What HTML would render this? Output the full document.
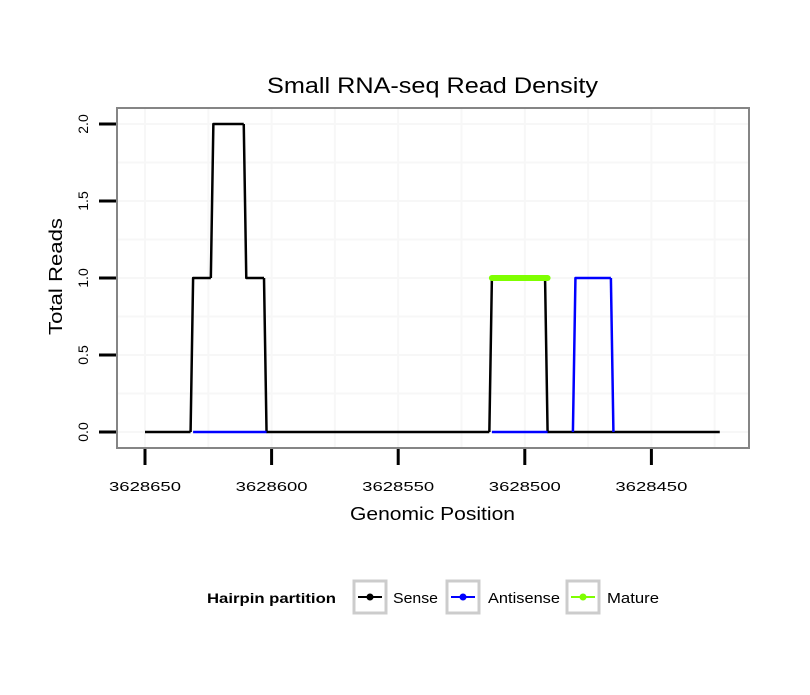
<!DOCTYPE html>
<html><head><meta charset="utf-8"><style>
body{margin:0;background:#fff;}
svg text{font-family:"Liberation Sans",sans-serif;}
</style></head><body>
<svg id="chart" width="810" height="690" xmlns="http://www.w3.org/2000/svg">
<rect width="810" height="690" fill="#fff"/>
<text x="267" y="93" font-size="22" textLength="331" lengthAdjust="spacingAndGlyphs">Small RNA-seq Read Density</text>
<g id="grid"></g>
<g id="series"></g>
<rect x="117" y="108" width="632" height="340" fill="none" stroke="#858585" stroke-width="2"/>
<g id="axes"></g>
<text x="350" y="520" font-size="18" textLength="165" lengthAdjust="spacingAndGlyphs">Genomic Position</text>
<text transform="translate(62,335) rotate(-90)" font-size="18" textLength="117" lengthAdjust="spacingAndGlyphs">Total Reads</text>
<g>
<text x="207" y="603" font-size="14" font-weight="bold" textLength="129" lengthAdjust="spacingAndGlyphs">Hairpin partition</text>
<g>
<rect x="354" y="581" width="32" height="32" fill="#fff" stroke="#cccccc" stroke-width="3"/>
<line x1="358" y1="597" x2="382" y2="597" stroke="#000" stroke-width="2"/><circle cx="370" cy="597" r="3.5" fill="#000"/>
<text x="393" y="603" font-size="15" textLength="45" lengthAdjust="spacingAndGlyphs">Sense</text></g>
<g>
<rect x="447" y="581" width="32" height="32" fill="#fff" stroke="#cccccc" stroke-width="3"/>
<line x1="451" y1="597" x2="475" y2="597" stroke="#0000ff" stroke-width="2"/><circle cx="463" cy="597" r="3.5" fill="#0000ff"/>
<text x="488" y="603" font-size="15" textLength="72" lengthAdjust="spacingAndGlyphs">Antisense</text></g>
<g>
<rect x="567" y="581" width="32" height="32" fill="#fff" stroke="#cccccc" stroke-width="3"/>
<line x1="571" y1="597" x2="595" y2="597" stroke="#7fff00" stroke-width="2"/><circle cx="583" cy="597" r="3.5" fill="#7fff00"/>
<text x="607" y="603" font-size="15" textLength="52" lengthAdjust="spacingAndGlyphs">Mature</text></g>
</g>
</svg>
<script>
const xTicks=[3628650,3628600,3628550,3628500,3628450];
const yTicks=[0,0.5,1.0,1.5,2.0];
const yTickLabels=["0.0","0.5","1.0","1.5","2.0"];
// runs: start position, end position, value
const senseStart=[3628650,3628631,3628623,3628610,3628602,3628513,3628491];
const senseEnd=[3628632,3628624,3628611,3628603,3628514,3628492,3628423];
const senseValue=[0,1,2,1,0,1,0];
const antiStart=[3628631,3628513,3628481,3628480,3628465];
const antiEnd=[3628602,3628491,3628481,3628466,3628465];
const antiValue=[0,0,0,1,0];
const matureStart=[3628513];
const matureEnd=[3628491];
const matureValue=[1];

const NS="http://www.w3.org/2000/svg";
const xs=p=>145+(3628650-p)*2.532;
const ys=v=>432-v*154;
function mk(tag,attrs,parent){const e=document.createElementNS(NS,tag);for(const k in attrs)e.setAttribute(k,attrs[k]);parent.appendChild(e);return e;}
const grid=document.getElementById('grid'),axes=document.getElementById('axes'),series=document.getElementById('series');
const gx=[];for(let i=0;i<xTicks.length;i++){gx.push(xTicks[i]);if(i<xTicks.length-1)gx.push((xTicks[i]+xTicks[i+1])/2);}
gx.push(xTicks[xTicks.length-1]-25);
gx.forEach(p=>{const x=xs(p);if(x>118&&x<748){const l=mk('line',{x1:x,x2:x,y1:109,y2:447,stroke:'#f7f7f7','stroke-width':2},grid);

}});
for(let v=0;v<=2.25;v+=0.25){const y=ys(v);if(y>109&&y<447){const l=mk('line',{x1:118,x2:748,y1:y,y2:y,stroke:'#f7f7f7','stroke-width':2},grid);

}}
xTicks.forEach(p=>{const x=xs(p);
const t=mk('line',{x1:x,x2:x,y1:449,y2:465,stroke:'#000','stroke-width':3},axes);


const tx=mk('text',{x:x-36,y:491,'font-size':13,textLength:72,lengthAdjust:'spacingAndGlyphs'},axes);tx.textContent=p;

});
yTicks.forEach((v,i)=>{const y=ys(v);
const t=mk('line',{x1:99,x2:116,y1:y,y2:y,stroke:'#000','stroke-width':3},axes);


const tx=mk('text',{transform:`translate(88,${y}) rotate(-90)`,'font-size':14,'text-anchor':'middle'},axes);tx.textContent=yTickLabels[i];

});
function draw(st,en,val,color,w,name){
  for(let r=0;r<st.length;r++){
    const pts=[];
    if(r>0&&st[r]===en[r-1]-1)pts.push([xs(en[r-1]),ys(val[r-1])]);
    for(let p=st[r];p>=en[r];p--)pts.push([xs(p),ys(val[r])]);
    const pl=mk('polyline',{points:pts.map(a=>a.join(',')).join(' '),fill:'none',stroke:color,'stroke-width':w,'stroke-linecap':w>4?'round':'butt','stroke-linejoin':'round'},series);
    
    
  }
}
draw(senseStart,senseEnd,senseValue,'#000',2.5,'sense-line');
draw(antiStart,antiEnd,antiValue,'#0000ff',2.5,'antisense-line');
draw(matureStart,matureEnd,matureValue,'#7fff00',6,'mature-line');
</script>
</body></html>
